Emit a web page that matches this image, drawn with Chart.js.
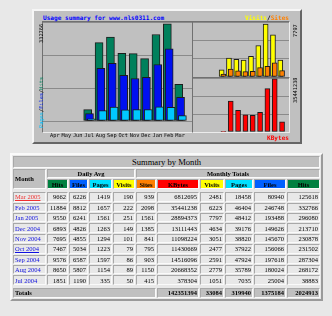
<!DOCTYPE html>
<html>
<head>
<meta charset="utf-8">
<script src="https://cdn.jsdelivr.net/npm/chart.js@4.4.1/dist/chart.umd.min.js"></script>
<style>
  body { margin: 0; width: 332px; height: 316px; overflow: hidden; position: relative; background: #e8e8e8; }
  #box { position: absolute; left: 32px; top: 9px; width: 266px; height: 131px; background: #c0c0c0;
         border: 2px solid; border-color: #f6f6f6 #666 #666 #f6f6f6; }
  .plot { position: absolute; border: 1px solid; border-color: #707070 #ececec #ececec #707070; }
  canvas { position: absolute; }
  .lbl { position: absolute; white-space: nowrap; line-height: 1; font: 5.3px "DejaVu Sans Mono", monospace; color: #000; }
  .bold { font-weight: bold; font-size: 6.1px; }
  .up { transform: rotate(-90deg); transform-origin: left top; }

  #tbl { position: absolute; left: 10px; top: 153px; border-collapse: separate; border-spacing: 1px; table-layout: fixed;
         border: 2px solid; border-color: #fafafa #9a9a9a #9a9a9a #fafafa; background: #e8e8e8;
         font-family: "Liberation Serif", serif; font-size: 6.5px; }
  #tbl td, #tbl th { border: 1px solid; border-color: #a8a8a8 #fafafa #fafafa #a8a8a8; padding: 0 1px;
         height: 7.4px; line-height: 7px; overflow: hidden; white-space: nowrap; }
  #tbl th { font-weight: bold; }
  #tbl .g { background: #c0c0c0; }
  #tbl .big { font-size: 8.6px; font-weight: normal; height: 10px; line-height: 10px; }
  #tbl td { text-align: right; }
  #tbl td.m { text-align: left; }
  #tbl a { color: #1010e0; text-decoration: underline; }
  #tbl a.cur { color: #f03030; }
  #tbl tr.sp td { border: 0; height: 1.5px; padding: 0; line-height: 1px; }
</style>
</head>
<body>
<div id="box"></div>
<div class="plot" style="left:42px;top:21px;width:149px;height:110px"></div>
<div class="plot" style="left:192px;top:21px;width:96px;height:55px"></div>
<div class="plot" style="left:192px;top:77px;width:96px;height:54px"></div>
<canvas id="main" width="149" height="120" style="left:43px;top:22px"></canvas>
<canvas id="visits" width="96" height="55" style="left:193px;top:22px"></canvas>
<canvas id="kbytes" width="96" height="54" style="left:193px;top:78px"></canvas>

<div class="lbl bold" style="left:43px;top:14px;color:#0000ff">Usage summary for www.nls0311.com</div>
<div class="lbl bold" style="right:43px;top:14px"><span style="color:#ffff00">Visits</span>/<span style="color:#ff8000">Sites</span></div>
<div class="lbl bold" style="right:43px;top:134px;color:#ff0000">KBytes</div>
<div class="lbl up" id="maxMain" style="left:38px;top:43px"></div>
<div class="lbl up" style="left:38px;top:128px"><span style="color:#00c0ff">Pages</span>/<span style="color:#0020f0">Files</span>/<span style="color:#00805c">Hits</span></div>
<div class="lbl up" id="maxVisits" style="left:292px;top:37px"></div>
<div class="lbl up" id="maxKbytes" style="left:292px;top:103px"></div>

<table id="tbl"></table>

<script>
// --- graph categories ---
const graphMonths = ['Apr', 'May', 'Jun', 'Jul', 'Aug', 'Sep', 'Oct', 'Nov', 'Dec', 'Jan', 'Feb', 'Mar'];
const emptyMonths = 3; // Apr..Jun have no data

// --- table rows, newest first ---
const tableMonths = ['Mar 2005', 'Feb 2005', 'Jan 2005', 'Dec 2004', 'Nov 2004', 'Oct 2004', 'Sep 2004', 'Aug 2004', 'Jul 2004'];

// daily averages
const avgHits   = [9662, 11884, 9550, 6893, 7695, 7467, 9576, 8650, 1851];
const avgFiles  = [6226, 8812, 6241, 4826, 4855, 5034, 6587, 5807, 1190];
const avgPages  = [1419, 1657, 1561, 1263, 1294, 1223, 1597, 1154, 335];
const avgVisits = [190, 222, 251, 149, 101, 79, 86, 89, 50];

// monthly totals
const sites  = [939, 2098, 1561, 1385, 841, 795, 903, 1150, 415];
const kbytes = [6812695, 35441238, 28894373, 13111443, 11098224, 11430669, 14516096, 20668352, 378304];
const visits = [2481, 6223, 7797, 4634, 3051, 2477, 2591, 2779, 1051];
const pages  = [18458, 46404, 48412, 39176, 38820, 37922, 47924, 35789, 7035];
const files  = [80940, 246748, 193488, 149626, 145670, 156066, 197618, 180024, 25004];
const hits   = [125618, 332766, 296080, 213710, 230878, 231502, 287304, 268172, 38883];

// totals row: KBytes, Visits, Pages, Files, Hits
const totals = [142351394, 33084, 319940, 1375184, 2024913];

// axis max labels printed beside the graphs
const maxLabels = { main: 332766, visits: 7797, kbytes: 35441238 };

// --- helpers ---
const toGraph = arr => new Array(emptyMonths).fill(null).concat(arr.slice().reverse());

function barSet(label, arr, color, off, width, order) {
  return {
    label,
    data: toGraph(arr).map((v, i) => ({ x: i + off, y: v })),
    backgroundColor: color,
    borderColor: '#1c1c1c',
    borderWidth: 1,
    borderSkipped: false,
    barThickness: width,
    grouped: false,
    order
  };
}

function graphOpts(yMax, showMonths) {
  return {
    responsive: false,
    animation: false,
    layout: { padding: 0 },
    plugins: { legend: { display: false }, tooltip: { enabled: false } },
    scales: {
      x: {
        type: 'linear', min: -0.5, max: 11.5,
        display: showMonths,
        grid: { display: false },
        border: { display: false },
        afterBuildTicks: s => { s.ticks = graphMonths.map((m, i) => ({ value: i })); },
        ticks: {
          autoSkip: false, maxRotation: 0, padding: 3, color: '#000',
          font: { family: 'DejaVu Sans Mono', size: 5.3, lineHeight: '7px' },
          callback: v => graphMonths[v]
        }
      },
      y: {
        min: 0, max: yMax,
        ticks: { display: false, stepSize: yMax / 3 },
        grid: { color: '#8a8a8a', drawTicks: false, lineWidth: 1 },
        border: { display: false }
      }
    }
  };
}

Chart.defaults.font.family = 'DejaVu Sans Mono';

new Chart(document.getElementById('main'), {
  type: 'bar',
  data: {
    datasets: [
      barSet('Hits', hits, '#00805c', -0.12, 8, 3),
      barSet('Files', files, '#0010f0', 0.04, 8, 2),
      barSet('Pages', pages, '#00c8ff', 0.2, 8, 1)
    ]
  },
  options: graphOpts(339000, true)
});

new Chart(document.getElementById('visits'), {
  type: 'bar',
  data: {
    datasets: [
      barSet('Visits', visits, '#ffff00', -0.14, 5, 2),
      barSet('Sites', sites, '#ff8000', 0.1, 5, 1)
    ]
  },
  options: graphOpts(8100, false)
});

new Chart(document.getElementById('kbytes'), {
  type: 'bar',
  data: { datasets: [barSet('KBytes', kbytes, '#ff0000', 0.1, 5, 1)] },
  options: graphOpts(36000000, false)
});

document.getElementById('maxMain').textContent = maxLabels.main;
document.getElementById('maxVisits').textContent = maxLabels.visits;
document.getElementById('maxKbytes').textContent = maxLabels.kbytes;

// --- summary table ---
const colWidths = [33, 21, 19, 23, 22, 20, 42, 24, 28, 32, 33];
const heads = [
  ['Hits', '#008040'], ['Files', '#0060ff'], ['Pages', '#00e0ff'], ['Visits', '#ffff00'],
  ['Sites', '#ff8000'], ['KBytes', '#ff0000'], ['Visits', '#ffff00'], ['Pages', '#00e0ff'],
  ['Files', '#0060ff'], ['Hits', '#008040']
];

let html = '<colgroup>' + colWidths.map(w => `<col style="width:${w}px">`).join('') + '</colgroup>';
html += '<tr><th colspan="11" class="g big">Summary by Month</th></tr>';
html += '<tr><th rowspan="2" class="g" style="text-align:left">Month</th>' +
        '<th colspan="4" class="g">Daily Avg</th><th colspan="6" class="g">Monthly Totals</th></tr>';
html += '<tr>' + heads.map(h => `<th style="background:${h[1]}">${h[0]}</th>`).join('') + '</tr>';
html += '<tr class="sp"><td colspan="11"></td></tr>';
tableMonths.forEach((m, i) => {
  const vals = [avgHits[i], avgFiles[i], avgPages[i], avgVisits[i], sites[i], kbytes[i], visits[i], pages[i], files[i], hits[i]];
  html += `<tr><td class="m"><a class="${i === 0 ? 'cur' : ''}">${m}</a></td>` +
          vals.map(v => `<td>${v}</td>`).join('') + '</tr>';
});
html += '<tr class="sp"><td colspan="11"></td></tr>';
html += '<tr><th colspan="6" class="g" style="text-align:left">Totals</th>' +
        totals.map(v => `<th class="g" style="text-align:right">${v}</th>`).join('') + '</tr>';
document.getElementById('tbl').innerHTML = html;
</script>
</body>
</html>
